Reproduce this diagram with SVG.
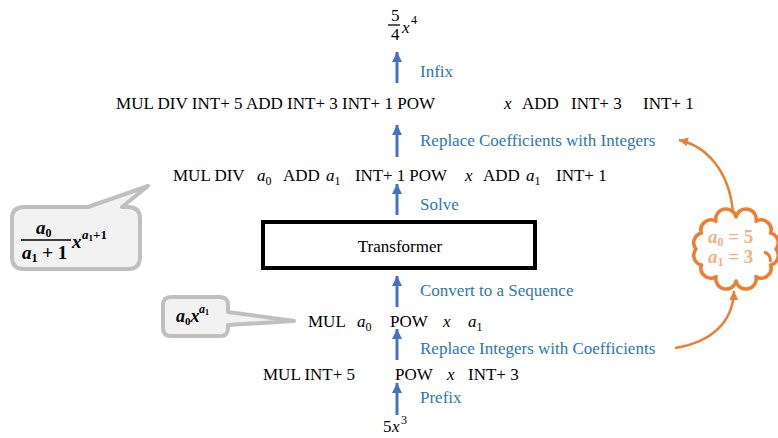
<svg xmlns="http://www.w3.org/2000/svg" width="778" height="438" viewBox="0 0 778 438">
<style>
.t{font-family:"Liberation Serif",serif;font-size:17px;fill:#000}
.sup{font-family:"Liberation Serif",serif;font-size:12px;fill:#000}
.m{font-family:"Liberation Serif",serif;font-size:17px;font-style:italic;fill:#000}
.s{font-size:12px;font-style:normal}
.lbl{font-family:"Liberation Serif",serif;font-size:17px;fill:#2e75b6}
.ba{stroke:#4472c4;stroke-width:3;fill:none}
.oa{stroke:#ed7d31;stroke-width:2.5;fill:none}
.bm{font-family:"Liberation Serif",serif;font-weight:bold;font-style:italic;fill:#000}
.cv{fill:#f4b183}
</style>
<defs>
<marker id="bh" markerUnits="userSpaceOnUse" markerWidth="12" markerHeight="12" refX="10" refY="5" orient="auto">
<path d="M0,0 L10,5 L0,10 Z" fill="#4472c4"/>
</marker>
<marker id="oh" markerUnits="userSpaceOnUse" markerWidth="12" markerHeight="12" refX="9" refY="4.5" orient="auto">
<path d="M0,0 L9,4.5 L0,9 Z" fill="#ed7d31"/>
</marker>
</defs>

<g id="connectors">
<line class="ba" x1="397" y1="83" x2="397" y2="52" marker-end="url(#bh)"/>
<line class="ba" x1="397" y1="157" x2="397" y2="125" marker-end="url(#bh)"/>
<line class="ba" x1="397" y1="215" x2="397" y2="184" marker-end="url(#bh)"/>
<line class="ba" x1="397" y1="307" x2="397" y2="276" marker-end="url(#bh)"/>
<line class="ba" x1="397" y1="360" x2="397" y2="329" marker-end="url(#bh)"/>
<line class="ba" x1="397" y1="415" x2="397" y2="383" marker-end="url(#bh)"/>
<path class="oa" d="M 733 212 C 729 170, 706 146, 679 140" marker-end="url(#oh)"/>
<path class="oa" d="M 675 348 C 712 342, 733 322, 734 291" marker-end="url(#oh)"/>
</g>

<g id="infix-result">
<text class="t" x="391" y="21">5</text>
<line x1="388" y1="25" x2="400" y2="25" stroke="#000" stroke-width="1.3"/>
<text class="t" x="391" y="40">4</text>
<text class="m" x="402" y="33">x</text>
<text class="sup" x="411" y="24">4</text>
</g>

<g id="labels">
<text class="lbl" x="420" y="77">Infix</text>
<text class="lbl" x="420" y="146">Replace Coefficients with Integers</text>
<text class="lbl" x="420" y="210">Solve</text>
<text class="lbl" x="420" y="296">Convert to a Sequence</text>
<text class="lbl" x="420" y="354">Replace Integers with Coefficients</text>
<text class="lbl" x="420" y="403">Prefix</text>
</g>

<g id="seq-int-out">
<text class="t" x="116" y="109" textLength="319">MUL DIV INT+ 5 ADD INT+ 3 INT+ 1 POW</text>
<text class="m" x="504" y="109">x</text>
<text class="t" x="522" y="109">ADD</text>
<text class="t" x="571" y="109">INT+ 3</text>
<text class="t" x="643" y="109">INT+ 1</text>
</g>

<g id="seq-coef-out">
<text class="t" x="173" y="181">MUL DIV</text>
<text class="m" x="257" y="181">a<tspan class="s" dy="4">0</tspan></text>
<text class="t" x="283" y="181">ADD</text>
<text class="m" x="326" y="181">a<tspan class="s" dy="4">1</tspan></text>
<text class="t" x="355" y="181" textLength="92">INT+ 1 POW</text>
<text class="m" x="465" y="181">x</text>
<text class="t" x="483" y="181">ADD</text>
<text class="m" x="526" y="181">a<tspan class="s" dy="4">1</tspan></text>
<text class="t" x="556" y="181">INT+ 1</text>
</g>

<g id="transformer">
<rect x="263" y="222" width="272" height="46" fill="#fff" stroke="#000" stroke-width="4"/>
<text class="t" x="400" y="252" text-anchor="middle">Transformer</text>
</g>

<g id="seq-coef-in">
<text class="t" x="308" y="327">MUL</text>
<text class="m" x="357" y="327">a<tspan class="s" dy="4">0</tspan></text>
<text class="t" x="390" y="327">POW</text>
<text class="m" x="443" y="327">x</text>
<text class="m" x="468" y="327">a<tspan class="s" dy="4">1</tspan></text>
</g>

<g id="seq-int-in">
<text class="t" x="263" y="380">MUL INT+ 5</text>
<text class="t" x="395" y="380">POW</text>
<text class="m" x="447" y="380">x</text>
<text class="t" x="468" y="380">INT+ 3</text>
</g>

<g id="prefix-input">
<text class="t" x="383" y="432">5</text>
<text class="m" x="392" y="432">x</text>
<text class="sup" x="401" y="424">3</text>
</g>

<g id="callout-solution">
<path d="M 24 207 L 88 207 L 148 186 L 122 207 L 128 207 Q 140 207 140 219 L 140 257 Q 140 269 128 269 L 24 269 Q 12 269 12 257 L 12 219 Q 12 207 24 207 Z" fill="#f2f2f2" stroke="#bfbfbf" stroke-width="4" stroke-linejoin="round"/>
<text class="bm" x="36" y="234" font-size="19">a<tspan font-size="12" font-style="normal" dy="3">0</tspan></text>
<line x1="21" y1="240" x2="71" y2="240" stroke="#000" stroke-width="1.5"/>
<text class="bm" x="22" y="259" font-size="19">a<tspan font-size="12" font-style="normal" dy="3">1</tspan><tspan font-style="normal" dy="-3"> + 1</tspan></text>
<text class="bm" x="72" y="248" font-size="19">x</text>
<text class="bm" x="82" y="239" font-size="13">a<tspan font-size="9" font-style="normal" dy="2">1</tspan><tspan font-style="normal" dy="-2">+1</tspan></text>
</g>

<g id="callout-sequence">
<path d="M 171 297 L 220 297 Q 228 297 228 305 L 228 312 L 294 321 L 228 325 L 228 328 Q 228 336 220 336 L 171 336 Q 163 336 163 328 L 163 305 Q 163 297 171 297 Z" fill="#f2f2f2" stroke="#bfbfbf" stroke-width="4" stroke-linejoin="round"/>
<text class="bm" x="176" y="322" font-size="18">a<tspan font-size="11" font-style="normal" dy="3">0</tspan><tspan dy="-3">x</tspan></text>
<text class="bm" x="199" y="313" font-size="12">a<tspan font-size="8" font-style="normal" dy="2">1</tspan></text>
</g>

<g id="cloud-values">
<path d="M 776 249 A 10 10 0 0 1 770.6 265 A 10 10 0 0 1 756 276.7 A 10 10 0 0 1 736 281 A 10 10 0 0 1 716 276.7 A 10 10 0 0 1 701.4 265 A 10 10 0 0 1 696 249 A 10 10 0 0 1 701.4 233 A 10 10 0 0 1 716 221.3 A 10 10 0 0 1 736 217 A 10 10 0 0 1 756 221.3 A 10 10 0 0 1 770.6 233 A 10 10 0 0 1 776 249 Z" fill="#fff" stroke="#ed7d31" stroke-width="3.5" stroke-linejoin="round"/>
<path d="M 764 252 A 8 8 0 0 1 770 262" fill="none" stroke="#ed7d31" stroke-width="3"/>
<text class="bm cv" x="708" y="243" font-size="19">a<tspan font-size="12" font-style="normal" dy="3">0</tspan><tspan font-style="normal" dy="-3"> = 5</tspan></text>
<text class="bm cv" x="708" y="263" font-size="19">a<tspan font-size="12" font-style="normal" dy="3">1</tspan><tspan font-style="normal" dy="-3"> = 3</tspan></text>
</g>
</svg>
